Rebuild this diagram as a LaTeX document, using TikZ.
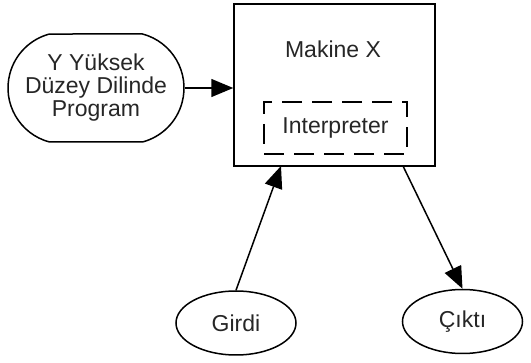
\documentclass[tikz,border=0pt]{standalone}
\usepackage{fontspec}
\setmainfont{Liberation Sans}
\usetikzlibrary{shapes.geometric,shapes.misc,arrows.meta}
\begin{document}
\begin{tikzpicture}[x=1pt,y=-1pt,
  lw/.style={line width=1.5pt},
  txt/.style={font=\fontsize{23}{23}\selectfont, text=black!85},
  arr/.style={lw, -{Triangle[length=22pt,width=18pt]}},
  oval/.style={ellipse, draw, lw, minimum width=120pt, minimum height=64pt, inner sep=0pt, txt}]
\useasboundingbox (0,0) rectangle (531,363);
\node[draw, lw, minimum width=201pt, minimum height=162pt, inner sep=0pt] (mach) at (334.5,85) {};
\node[txt] (mx) at (333,49) {Makine X};
\node[draw, lw, dash pattern=on 20pt off 10pt, minimum width=143pt, minimum height=52pt, inner sep=0pt, txt] (interp) at (335.5,128) {Interpreter};
\node[rounded rectangle, rounded rectangle arc length=150, draw, lw, minimum width=176pt, minimum height=108pt, inner sep=0pt, align=center, txt] (prog) at (96,88) {Y Yüksek\\Düzey Dilinde\\Program};
\node[oval] (girdi) at (236,323) {Girdi};
\node[oval] (cikti) at (462.5,321.5) {Çıktı};
\coordinate (inpt) at (281,166);
\coordinate (outpt) at (403,166);
\draw[arr] (prog.east) -- (mach.west |- prog.east);
\draw[arr] (girdi.north) -- (inpt);
\draw[arr] (outpt) -- (cikti.north);
\end{tikzpicture}
\end{document}
